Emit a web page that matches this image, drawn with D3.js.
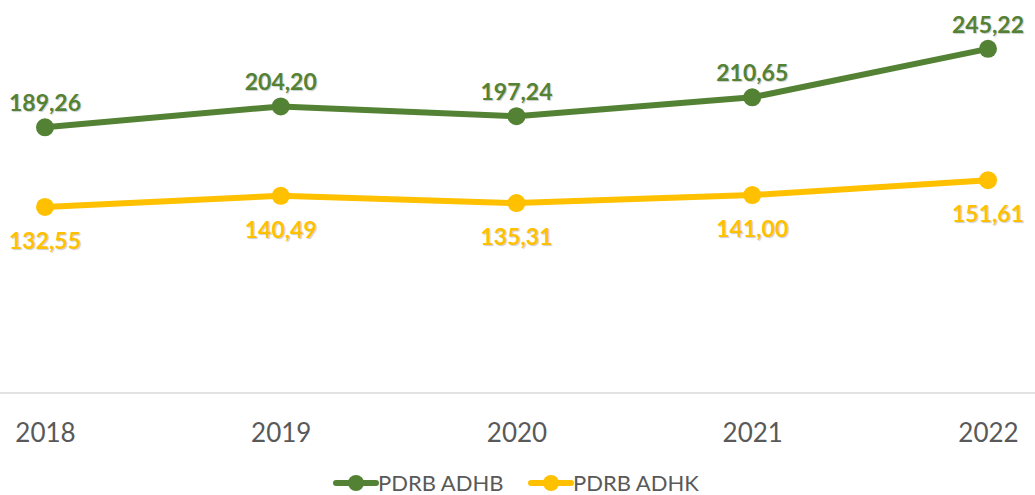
<!DOCTYPE html>
<html>
<head>
<meta charset="utf-8">
<script src="https://cdn.jsdelivr.net/npm/d3@7.9.0/dist/d3.min.js"></script>
<style>
  html, body { margin: 0; padding: 0; background: #fff; }
  svg { display: block; }
  .val { font-family: Lato, "Open Sans", sans-serif; font-weight: 700; font-size: 23px; }
  .tick text { font-family: Lato, "Open Sans", sans-serif; font-size: 26px; fill: #595959; }
  .legend text { font-family: Lato, "Open Sans", sans-serif; font-size: 22px; fill: #595959; }
</style>
</head>
<body>
<svg id="chart" width="1035" height="495"></svg>
<script>
// data
const years = ["2018", "2019", "2020", "2021", "2022"];
const adhb = [189.26, 204.20, 197.24, 210.65, 245.22];
const adhk = [132.55, 140.49, 135.31, 141.00, 151.61];
const seriesNames = ["PDRB ADHB", "PDRB ADHK"];
const seriesColors = ["#548235", "#FFC000"];

const fmt = v => v.toFixed(2).replace(".", ",");

const svg = d3.select("#chart");
const W = 1035;

const x = d3.scalePoint().domain(years).range([45, 988]);
const y = d3.scaleLinear().domain([0, 280]).range([393, 0]);

// baseline
svg.append("line")
  .attr("x1", 0).attr("x2", W)
  .attr("y1", y(0)).attr("y2", y(0))
  .attr("stroke", "#d9d9d9").attr("stroke-width", 1.5);

// x axis labels
const xAxis = svg.append("g")
  .attr("transform", `translate(0,${y(0)})`)
  .call(d3.axisBottom(x).tickSize(0).tickPadding(31));
xAxis.select(".domain").remove();

const series = [
  { name: seriesNames[0], values: adhb, color: seriesColors[0], above: true },
  { name: seriesNames[1], values: adhk, color: seriesColors[1], above: false }
];

const line = d3.line()
  .x((d, i) => x(years[i]))
  .y(d => y(d));

series.forEach(s => {
  svg.append("path")
    .datum(s.values)
    .attr("d", line)
    .attr("fill", "none")
    .attr("stroke", s.color)
    .attr("stroke-width", 6)
    .attr("stroke-linejoin", "round");

  svg.selectAll(null)
    .data(s.values)
    .join("circle")
    .attr("cx", (d, i) => x(years[i]))
    .attr("cy", d => y(d))
    .attr("r", 9)
    .attr("fill", s.color);

  svg.selectAll(null)
    .data(s.values)
    .join("text")
    .attr("class", "val")
    .attr("x", (d, i) => x(years[i]))
    .attr("y", d => s.above ? y(d) - 16 : y(d) + 42)
    .attr("text-anchor", "middle")
    .attr("fill", s.color)
    .style("text-shadow", "1px 1px 1px rgba(0,0,0,0.2)")
    .text(d => fmt(d));
});

// legend
const legend = svg.append("g").attr("class", "legend");
const legendX = [336, 531];
series.forEach((s, i) => {
  const g = legend.append("g").attr("transform", `translate(${legendX[i]},483)`);
  g.append("line")
    .attr("x1", 0).attr("x2", 40)
    .attr("stroke", s.color).attr("stroke-width", 6)
    .attr("stroke-linecap", "round");
  g.append("circle").attr("cx", 20).attr("r", 8).attr("fill", s.color);
  g.append("text")
    .attr("x", 42).attr("y", 0)
    .attr("dy", "0.36em")
    .text(s.name);
});
</script>
</body>
</html>
